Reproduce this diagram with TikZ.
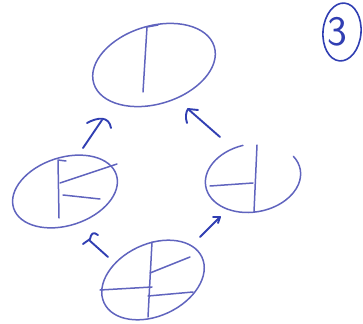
\documentclass[tikz,border=0pt]{standalone}
\usepackage{fontspec}
\usetikzlibrary{shapes.geometric}
\definecolor{inkA}{RGB}{96,100,190}
\definecolor{inkB}{RGB}{48,62,178}
\tikzset{
  ell/.style={ellipse, draw=inkA, line width=1.5pt, inner sep=0pt},
  inner/.style={draw=inkA, line width=1.5pt, line cap=round, line join=round},
  shaft/.style={draw=inkB, line width=1.9pt, line cap=round, line join=round},
}
\begin{document}
\begin{tikzpicture}[x=1pt,y=1pt]
\useasboundingbox (0,0) rectangle (363,-323);
% nodes
\node[ell, minimum width=126, minimum height=78, rotate=17] (T) at (154,-65) {};
\node[ell, minimum width=108, minimum height=68, rotate=18] (L) at (65,-191.5) {};
\node[ellipse, inner sep=0pt, minimum width=96, minimum height=68, rotate=10] (R) at (253,-178) {};
\node[ell, minimum width=108, minimum height=72, rotate=25] (B) at (153,-280) {};
% right ellipse drawn open at its upper right
\draw[inner, rotate around={10:(253,-178)}] (253,-178) ++(95:48 and 34)
  arc[start angle=95, end angle=385, x radius=48, y radius=34];
% inner strokes
\draw[inner] (158,-25) -- (147,-27) -- (143,-92);
\draw[inner] (66,-161) -- (58,-160) -- (59,-218);
\draw[inner] (60,-183) -- (117,-164);
\draw[inner] (63,-195) -- (100,-199);
\draw[inner] (257,-145) -- (254,-212);
\draw[inner] (210,-186) -- (253,-183);
\draw[inner] (152,-242) -- (148,-317);
\draw[inner] (100,-290) -- (152,-287);
\draw[inner] (150,-273) -- (190,-257);
\draw[inner] (148,-296) -- (193,-292);
% connector ends
\coordinate (a1s) at (83,-148); \coordinate (a1e) at (102,-120);
\coordinate (a2s) at (220,-137); \coordinate (a2e) at (188,-109);
\coordinate (a3s) at (108,-257); \coordinate (a3e) at (89,-240);
\coordinate (a4s) at (200,-237); \coordinate (a4e) at (220,-217);
% L -> T
\draw[shaft] (a1s) -- (a1e);
\draw[shaft] (87,-123) .. controls (98,-117) and (109,-116) .. (111,-128);
% R -> T
\draw[shaft] (a2s) -- (a2e);
\draw[shaft] (187,-123) .. controls (185,-117) and (186,-112) .. (a2e) -- (198,-110);
% B -> L
\draw[shaft] (a3s) -- (a3e);
\draw[shaft] (83,-244) -- (90,-239) .. controls (91,-234) and (93,-231) .. (98,-235);
% B -> R
\draw[shaft] (a4s) -- (a4e);
\draw[shaft] (213,-217) -- (a4e) -- (218,-223);
% circled number
\node[ellipse, draw=inkB, line width=1.6pt, minimum width=38, minimum height=58, rotate=-5, inner sep=0pt] (N) at (342,-32) {};
\node[text=inkB, font=\sffamily\fontsize{42}{42}\selectfont, inner sep=0pt] (N3) at (337,-32) {3};
\end{tikzpicture}
\end{document}
